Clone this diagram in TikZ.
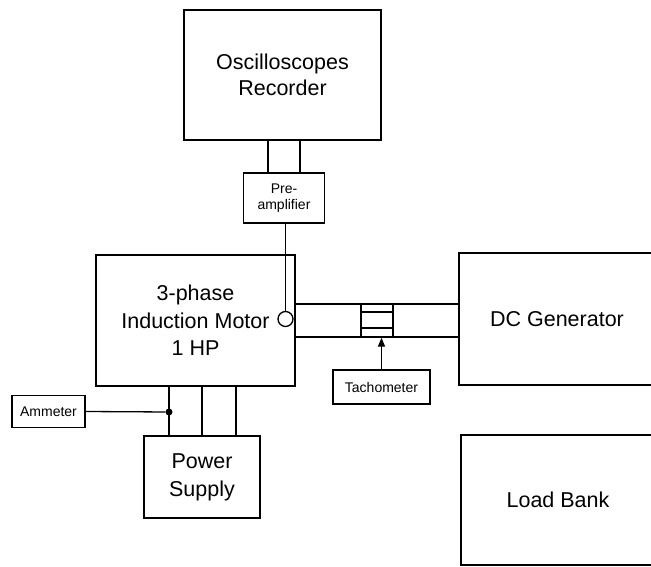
\documentclass[tikz,border=0pt]{standalone}
\usepackage{fontspec}
\setmainfont{Liberation Sans}
\usetikzlibrary{arrows.meta}
\begin{document}
\begin{tikzpicture}[x=1pt,y=-1pt,
  box/.style={draw, line width=1.3pt, inner sep=0pt, align=center},
  bigtext/.style={font=\fontsize{21.5}{26}\selectfont},
  smalltext/.style={font=\fontsize{14}{16}\selectfont},
  wire/.style={line width=1.3pt}]
\useasboundingbox (0,0) rectangle (651,567);
% boxes
\node[box,bigtext,minimum width=197pt,minimum height=130pt] (osc) at (282.5,75) {Oscilloscopes\\Recorder};
\node[box,smalltext,minimum width=81pt,minimum height=50pt] (pre) at (284,198) {Pre-\\amplifier};
\node[box,minimum width=199pt,minimum height=131pt,font=\fontsize{21.5}{27.5}\selectfont] (motor) at (195.5,320.5) {3-phase\\Induction Motor\\1 HP};
\node[box,bigtext,minimum width=196pt,minimum height=132pt] (dcgen) at (557,319) {DC Generator};
\node[box,bigtext,minimum width=194pt,minimum height=130pt] (load) at (558,500) {Load Bank};
\node[box,smalltext,minimum width=73pt,minimum height=32pt] (amm) at (48.5,411.5) {Ammeter};
\node[box,smalltext,minimum width=97pt,minimum height=34pt] (tach) at (381.5,387) {Tachometer};
\node[box,font=\fontsize{21.5}{28}\selectfont,minimum width=116pt,minimum height=82pt] (power) at (202,477) {Power\\Supply};
\node[draw,circle,line width=1.3pt,inner sep=0pt,minimum size=15pt] (ring) at (285.5,319) {};
\node[box,minimum width=32pt,minimum height=33pt] (cpl) at (377,320.5) {};
\node[circle,fill,inner sep=0pt,minimum size=7pt] (dot) at (169,412) {};
% helper coordinates
\coordinate (s1) at (0,304);
\coordinate (s2) at (0,337);
\coordinate (p1) at (169,0);
\coordinate (p2) at (202,0);
\coordinate (p3) at (236,0);
% oscilloscope to pre-amplifier
\draw[wire] ([xshift=-16pt]pre.north) -- ([xshift=-16pt]pre.north |- osc.south);
\draw[wire] ([xshift=16pt]pre.north) -- ([xshift=16pt]pre.north |- osc.south);
% pre-amplifier to sensor ring
\draw[wire] (ring.north) -- (ring.north |- pre.south);
% shaft
\draw[wire] (motor.east |- s1) -- (dcgen.west |- s1);
\draw[wire] (motor.east |- s2) -- (dcgen.west |- s2);
% coupling inner lines
\draw[wire] ([yshift=-7.5pt]cpl.west) -- ([yshift=-7.5pt]cpl.east);
\draw[wire] ([yshift=8.5pt]cpl.west) -- ([yshift=8.5pt]cpl.east);
% tachometer arrow
\draw[wire,-{Triangle[length=9pt,width=7pt]}] (tach.north) -- (tach.north |- cpl.south);
% motor to power supply
\draw[wire] (motor.south -| p1) -- (power.north -| p1);
\draw[wire] (motor.south -| p2) -- (power.north -| p2);
\draw[wire] (motor.south -| p3) -- (power.north -| p3);
% ammeter
\draw[wire] (amm.east) -- (dot);
\end{tikzpicture}
\end{document}
